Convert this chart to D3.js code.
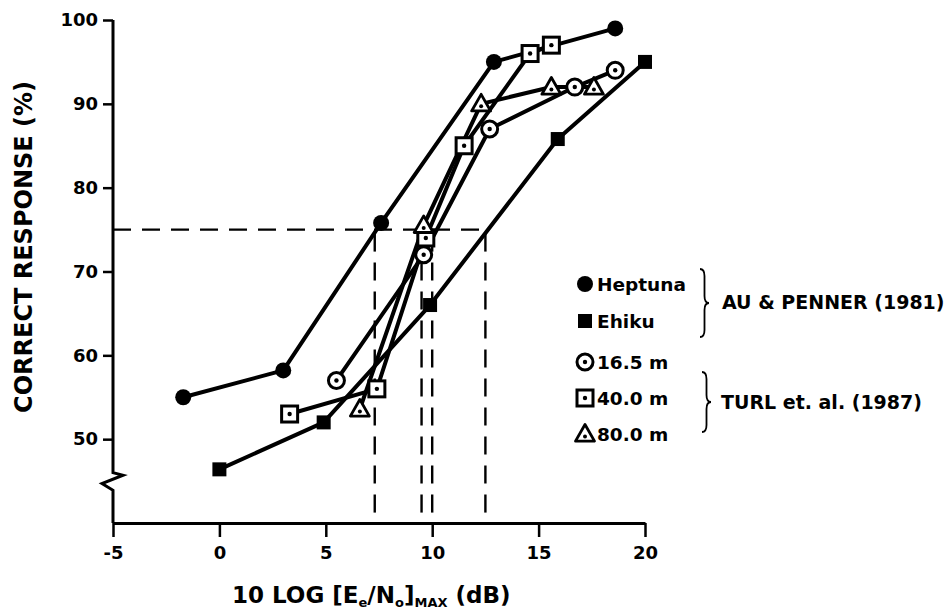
<!DOCTYPE html>
<html>
<head>
<meta charset="utf-8">
<script src="https://cdn.jsdelivr.net/npm/d3@7"></script>
<style>
  body { margin: 0; background: #fff; }
  text { font-family: "DejaVu Sans", sans-serif; font-weight: bold; fill: #000; }
</style>
</head>
<body>
<div id="chart"></div>
<script>
// values
const xTicks = [-5, 0, 5, 10, 15, 20];
const yTicks = [50, 60, 70, 80, 90, 100];

const heptunaX = [-1.7, 3.0, 7.6, 12.9, 18.6];
const heptunaY = [55, 58.2, 75.8, 95, 99];
const ehikuX = [0, 4.9, 9.9, 15.9, 20];
const ehikuY = [46.4, 52, 66, 85.8, 95];
const m165X = [5.5, 9.6, 12.7, 16.7, 18.6];
const m165Y = [57, 72, 87, 92, 94];
const m40X = [3.3, 7.4, 9.7, 11.5, 14.6, 15.6];
const m40Y = [53, 56, 74, 85, 96, 97];
const m80X = [6.6, 9.6, 12.3, 15.6, 17.6];
const m80Y = [53.6, 75.5, 90, 92, 92];

const criterion = 75;
const thresholds = [7.3, 9.5, 10.0, 12.5];

const legendNames = ["Heptuna", "Ehiku", "16.5 m", "40.0 m", "80.0 m"];
const sourceNames = ["AU & PENNER (1981)", "TURL et. al. (1987)"];

var width = 951, height = 614;

var svg = d3.select("#chart").append("svg")
  .attr("width", width)
  .attr("height", height);

var x = d3.scaleLinear().domain([-5, 20]).range([113, 645]);
var y = d3.scaleLinear().domain([40, 100]).range([523, 20]);

function toPts(xs, ys) {
  return xs.map((v, i) => ({x: v, y: ys[i]}));
}

var series = [
  {name: "Heptuna", pts: toPts(heptunaX, heptunaY), mark: "dot"},
  {name: "Ehiku", pts: toPts(ehikuX, ehikuY), mark: "sq"},
  {name: "16.5 m", pts: toPts(m165X, m165Y), mark: "ocirc"},
  {name: "40.0 m", pts: toPts(m40X, m40Y), mark: "osq"},
  {name: "80.0 m", pts: toPts(m80X, m80Y), mark: "otri"}
];

// dashed 75% guides
var dash = "18,11";
svg.append("line")
  .attr("x1", x(-5)).attr("x2", x(d3.max(thresholds)))
  .attr("y1", y(criterion)).attr("y2", y(criterion))
  .attr("stroke", "#000").attr("stroke-width", 2.4)
  .attr("stroke-dasharray", dash);

svg.append("g").selectAll("line")
  .data(thresholds)
  .join("line")
    .attr("x1", d => x(d)).attr("x2", d => x(d))
    .attr("y1", y(criterion) + 4).attr("y2", y(40))
    .attr("stroke", "#000").attr("stroke-width", 2.4)
    .attr("stroke-dasharray", dash);

// axes
var xAxis = svg.append("g")
  .attr("transform", `translate(0,${y(40)})`)
  .call(d3.axisBottom(x).tickValues(xTicks).tickSize(14).tickSizeOuter(0).tickFormat(d3.format("d")));
xAxis.select(".domain").attr("stroke-width", 3);
xAxis.selectAll(".tick line").attr("stroke-width", 2.5);
xAxis.selectAll(".tick text")
  .attr("y", 23)
  .style("font-size", "18px")
  .style("font-family", "DejaVu Sans")
  .style("font-weight", "bold")
  .text(d => d < 0 ? "-" + Math.abs(d) : d);

var yAxis = svg.append("g")
  .attr("transform", `translate(${x(-5)},0)`)
  .call(d3.axisLeft(y).tickValues(yTicks).tickSize(10).tickPadding(5));
yAxis.select(".domain").remove();
yAxis.selectAll(".tick line").attr("stroke-width", 2.5);
yAxis.selectAll(".tick text")
  .style("font-size", "18px")
  .style("font-family", "DejaVu Sans")
  .style("font-weight", "bold");

// y axis line with break
var x0 = x(-5);
var axisPts = [
  [x0, y(100)], [x0, y(46)], [x0 + 10, y(45.7)], [x0 - 11, y(44.7)],
  [x0, y(43.9)], [x0, y(40)]
];
svg.append("path")
  .attr("d", d3.line()(axisPts))
  .attr("fill", "none").attr("stroke", "#000").attr("stroke-width", 3)
  .attr("stroke-linejoin", "miter");

// series lines
var line = d3.line().x(d => x(d.x)).y(d => y(d.y));
svg.append("g").selectAll("path")
  .data(series)
  .join("path")
    .attr("d", d => line(d.pts))
    .attr("fill", "none")
    .attr("stroke", "#000")
    .attr("stroke-width", 4)
    .attr("stroke-linejoin", "round");

function drawMark(g, kind, cx, cy) {
  if (kind == "dot") {
    g.append("circle").attr("cx", cx).attr("cy", cy).attr("r", 8).attr("fill", "#000");
  } else if (kind == "sq") {
    g.append("rect").attr("x", cx - 7).attr("y", cy - 7).attr("width", 14).attr("height", 14).attr("fill", "#000");
  } else if (kind == "ocirc") {
    g.append("circle").attr("cx", cx).attr("cy", cy).attr("r", 8)
      .attr("fill", "#fff").attr("stroke", "#000").attr("stroke-width", 3);
    g.append("circle").attr("cx", cx).attr("cy", cy).attr("r", 2.2).attr("fill", "#000");
  } else if (kind == "osq") {
    g.append("rect").attr("x", cx - 8).attr("y", cy - 8).attr("width", 16).attr("height", 16)
      .attr("fill", "#fff").attr("stroke", "#000").attr("stroke-width", 3);
    g.append("circle").attr("cx", cx).attr("cy", cy).attr("r", 2.2).attr("fill", "#000");
  } else if (kind == "otri") {
    var s = 9.5;
    g.append("path")
      .attr("d", `M${cx},${cy - s} L${cx + s},${cy + s * 0.75} L${cx - s},${cy + s * 0.75} Z`)
      .attr("fill", "#fff").attr("stroke", "#000").attr("stroke-width", 2.8)
      .attr("stroke-linejoin", "round");
    g.append("circle").attr("cx", cx).attr("cy", cy + 2.5).attr("r", 2).attr("fill", "#000");
  }
}

var markG = svg.append("g");
series.forEach(s => {
  s.pts.forEach(p => drawMark(markG, s.mark, x(p.x), y(p.y)));
});

// legend
var legendY = [284, 321, 362, 398, 434];
var legend = svg.append("g");
series.forEach((s, i) => {
  drawMark(legend, s.mark, 585, legendY[i]);
  legend.append("text")
    .attr("x", 597).attr("y", legendY[i])
    .attr("dominant-baseline", "central")
    .style("font-size", "18.5px")
    .text(legendNames[i]);
});

function brace(bx, y0, y1, w) {
  var ym = (y0 + y1) / 2, r = 7, h = w / 2;
  return `M${bx},${y0} Q${bx + h},${y0} ${bx + h},${y0 + r} L${bx + h},${ym - r} ` +
    `Q${bx + h},${ym} ${bx + w},${ym} Q${bx + h},${ym} ${bx + h},${ym + r} ` +
    `L${bx + h},${y1 - r} Q${bx + h},${y1} ${bx},${y1}`;
}

svg.append("path").attr("d", brace(700, 269, 337, 9))
  .attr("fill", "none").attr("stroke", "#000").attr("stroke-width", 1.8);
svg.append("path").attr("d", brace(702, 372, 432, 9))
  .attr("fill", "none").attr("stroke", "#000").attr("stroke-width", 1.8);

svg.append("text").attr("x", 722).attr("y", 302)
  .attr("dominant-baseline", "central").style("font-size", "19px")
  .text(sourceNames[0]);
svg.append("text").attr("x", 721).attr("y", 402)
  .attr("dominant-baseline", "central").style("font-size", "19px")
  .text(sourceNames[1]);

// axis titles
svg.append("text")
  .attr("transform", "translate(32,247) rotate(-90)")
  .attr("text-anchor", "middle")
  .style("font-size", "24px")
  .text("CORRECT RESPONSE (%)");

var xt = svg.append("text")
  .attr("x", 232).attr("y", 603)
  .style("font-size", "23px");
xt.append("tspan").text("10 LOG [E");
xt.append("tspan").attr("dy", 4).style("font-size", "13px").text("e");
xt.append("tspan").attr("dy", -4).text("/N");
xt.append("tspan").attr("dy", 4).style("font-size", "13px").text("o");
xt.append("tspan").attr("dy", -4).text("]");
xt.append("tspan").attr("dy", 4).style("font-size", "13px").text("MAX");
xt.append("tspan").attr("dy", -4).text(" (dB)");
</script>
</body>
</html>
